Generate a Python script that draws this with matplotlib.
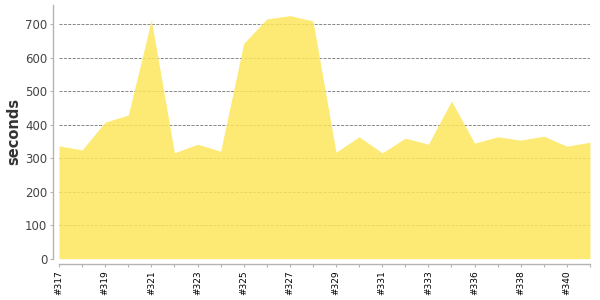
import matplotlib
matplotlib.use("Agg")
import matplotlib.pyplot as plt

# build numbers (#334 is missing in the history)
builds = ["#317", "#318", "#319", "#320", "#321", "#322", "#323", "#324",
          "#325", "#326", "#327", "#328", "#329", "#330", "#331", "#332",
          "#333", "#335", "#336", "#337", "#338", "#339", "#340", "#341"]
durations = [337, 325, 408, 429, 713, 316, 342, 321,
             643, 716, 726, 710, 318, 364, 316, 360,
             342, 471, 345, 364, 354, 366, 336, 348]
y_ticks = [0, 100, 200, 300, 400, 500, 600, 700]

fig = plt.figure(figsize=(6, 3), dpi=100)
ax = fig.add_axes([59 / 600, 0.1377, 531 / 600, 0.846])

x = list(range(len(builds)))

# grid sits under a slightly transparent fill
for v in y_ticks[1:]:
    ax.axhline(v, color="#8a8a8a", linestyle=(0, (3, 1.4)), linewidth=0.72, zorder=1)
ax.fill_between(x, durations, 0, color=(252 / 255, 231 / 255, 93 / 255),
                alpha=0.85, linewidth=0, zorder=2)

ax.set_xlim(0, len(builds) - 1)
ax.set_ylim(0, 758)

for side in ("top", "right"):
    ax.spines[side].set_visible(False)
for side in ("left", "bottom"):
    ax.spines[side].set_color("#b4b4b4")
    ax.spines[side].set_linewidth(1.0)
    ax.spines[side].set_position(("outward", 4))

ax.set_yticks(y_ticks)
ax.set_yticklabels([str(v) for v in y_ticks])
ax.tick_params(axis="y", length=2.5, width=0.8, color="#b4b4b4",
               labelsize=8.5, labelcolor="#444444", pad=2)

ax.set_xticks(x[::2])
ax.set_xticklabels(builds[::2], rotation=90, fontsize=6.5)
ax.set_xticks(x, minor=True)
ax.tick_params(axis="x", which="both", length=2.5, width=0.8, color="#b4b4b4",
               labelcolor="black", pad=2)

ax.set_ylabel("seconds", fontsize=10.5, fontweight="bold", color="#333333",
              labelpad=3)

fig.savefig("out.png", dpi=100)
